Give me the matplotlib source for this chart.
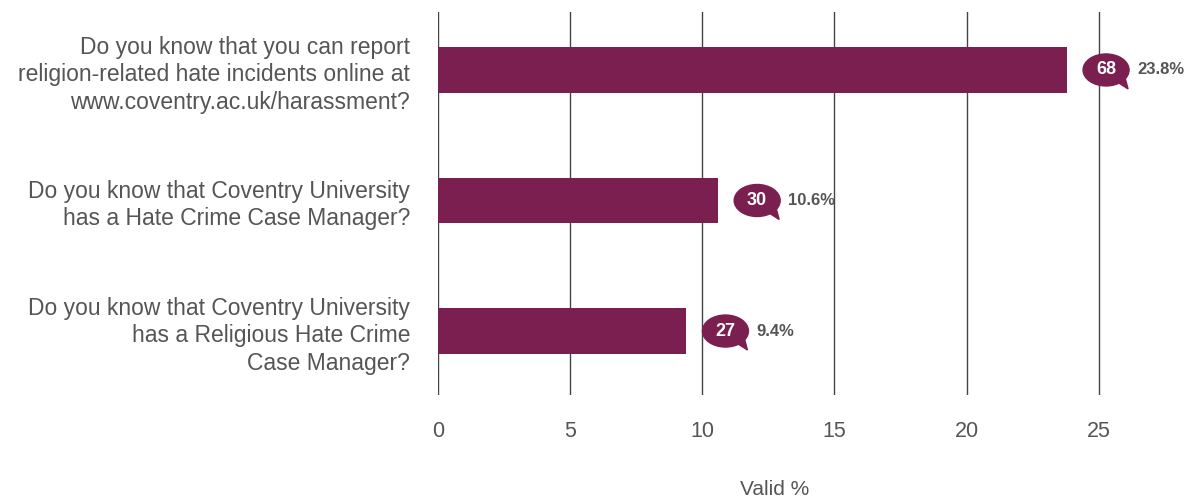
import matplotlib
matplotlib.use("Agg")
import matplotlib.pyplot as plt
from matplotlib.patches import Ellipse, Polygon
from matplotlib.transforms import ScaledTranslation

# data
questions = [
    "Do you know that you can report\nreligion-related hate incidents online at\nwww.coventry.ac.uk/harassment?",
    "Do you know that Coventry University\nhas a Hate Crime Case Manager?",
    "Do you know that Coventry University\nhas a Religious Hate Crime\nCase Manager?",
]
valid_pct = [23.8, 10.6, 9.4]
counts = [68, 30, 27]
xticks = [0, 5, 10, 15, 20, 25]

BAR = "#7b1f50"
GREY = "#555555"

plt.rcParams["font.family"] = ["Liberation Sans", "DejaVu Sans"]

fig = plt.figure(figsize=(11.9, 4.97), dpi=100)
ax = fig.add_axes([438 / 1190, 102 / 497, 674 / 1190, 383 / 497])

ypos = list(range(len(questions)))
ax.barh(ypos, valid_pct, height=0.35, color=BAR, zorder=3)

ax.set_xlim(0, 25.5)
ax.set_ylim(2.49, -0.444)
ax.set_xticks(xticks)
ax.set_xticklabels([str(t) for t in xticks], fontsize=15.5, color=GREY)
ax.set_yticks(ypos)
ax.set_yticklabels(questions, fontsize=16.5, color=GREY, linespacing=1.25)
ax.tick_params(axis="both", length=0)
ax.tick_params(axis="x", pad=19)
ax.tick_params(axis="y", pad=20)
for s in ax.spines.values():
    s.set_visible(False)
ax.grid(axis="x", color="#444444", linewidth=1.0, zorder=0)
ax.set_axisbelow(True)
ax.set_xlabel("Valid %", fontsize=15, color=GREY, labelpad=27)

# speech bubbles with counts, then percentage labels
for y, v, n in zip(ypos, valid_pct, counts):
    tr = fig.dpi_scale_trans + ScaledTranslation(v, y, ax.transData)
    cx = 0.39
    bubble = Ellipse((cx, 0.0), 0.46, 0.32, transform=tr, color=BAR,
                     zorder=5, clip_on=False)
    tail = Polygon([(cx + 0.08, -0.10), (cx + 0.22, -0.19), (cx + 0.18, -0.04)],
                   closed=True, transform=tr, color=BAR, zorder=5, clip_on=False)
    ax.add_patch(bubble)
    ax.add_patch(tail)
    ax.text(cx, 0.0, str(n), transform=tr, ha="center", va="center",
            color="white", fontsize=13, fontweight="bold", zorder=6)
    ax.text(cx + 0.31, 0.0, f"{v:.1f}%", transform=tr, ha="left", va="center",
            color=GREY, fontsize=12, fontweight="bold", zorder=6, clip_on=False)

fig.savefig("out.png", dpi=100)
